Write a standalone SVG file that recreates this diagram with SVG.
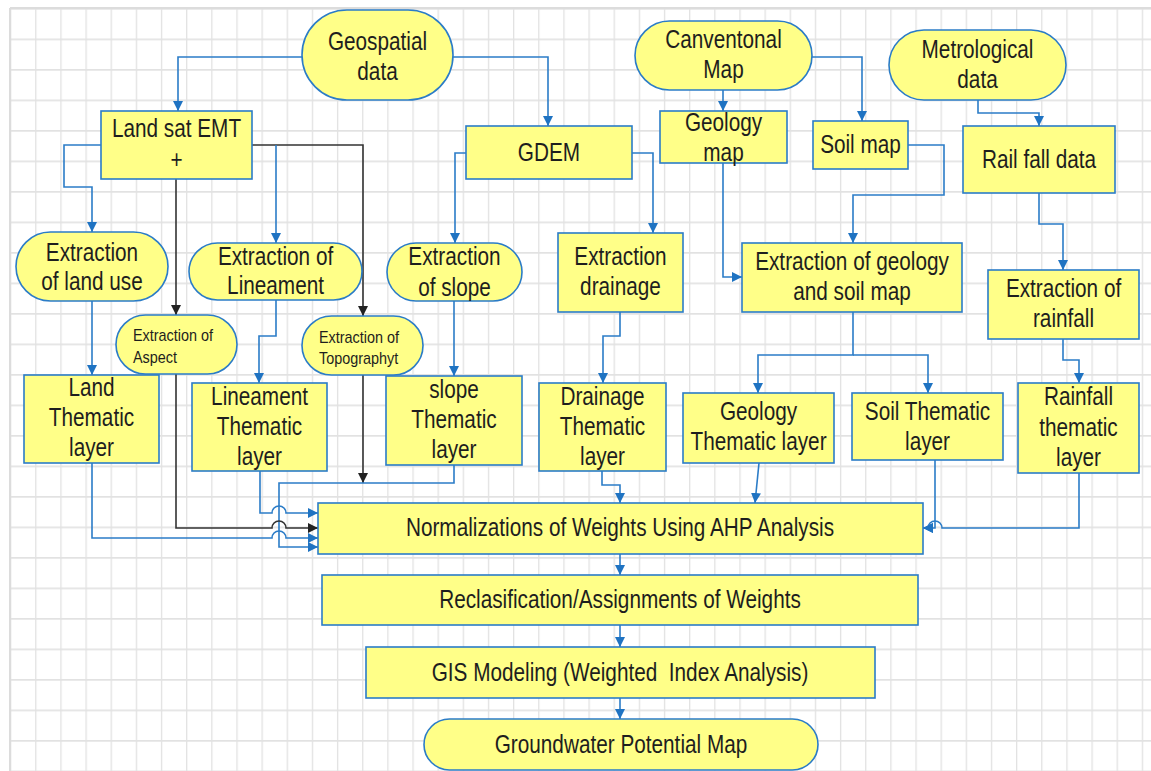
<svg xmlns="http://www.w3.org/2000/svg" width="1151" height="771" viewBox="0 0 1151 771">
<style>
.n{fill:#ffff88;stroke:#2b7cc7;stroke-width:1.6}
.t{font-family:"Liberation Sans",Arial,sans-serif;font-size:25px;fill:#1e1e1e;text-anchor:middle;transform-box:fill-box;transform-origin:center;transform:scaleX(0.83)}
.s{font-family:"Liberation Sans",Arial,sans-serif;font-size:16px;fill:#1e1e1e;text-anchor:start;transform-box:fill-box;transform-origin:left center;transform:scaleX(0.9)}
.c{fill:none;stroke:#2b7cc7;stroke-width:1.6}
.k{fill:none;stroke:#333;stroke-width:1.6}
</style>
<defs>
<pattern id="grid" patternUnits="userSpaceOnUse" x="10" y="8" width="25.15" height="30.5">
<path d="M0.5 0V30.5M0 0.8H25.15" fill="none" stroke="#e2e2e2" stroke-width="1.6"/>
</pattern>
<marker id="ab" markerUnits="userSpaceOnUse" markerWidth="11" markerHeight="10" refX="10" refY="5" orient="auto"><path d="M0 0L10 5L0 10z" fill="#1f73c2"/></marker>
<marker id="ak" markerUnits="userSpaceOnUse" markerWidth="11" markerHeight="10" refX="10" refY="5" orient="auto"><path d="M0 0L10 5L0 10z" fill="#222"/></marker>
</defs>
<rect width="1151" height="771" fill="#fff"/>
<rect x="10" y="8" width="1141" height="763" fill="url(#grid)"/>
<path d="M10 8H1151M10 8V771" stroke="#dcdcdc" stroke-width="2" fill="none"/>

<g id="connectors">
<path class="c" d="M302 57H178V111" marker-end="url(#ab)"/>
<path class="c" d="M453 57H548V126" marker-end="url(#ab)"/>
<path class="c" d="M723 90V111" marker-end="url(#ab)"/>
<path class="c" d="M812 57H862V121" marker-end="url(#ab)"/>
<path class="c" d="M978 100V113H1039V126" marker-end="url(#ab)"/>
<path class="c" d="M101 145H64V187H92V232" marker-end="url(#ab)"/>
<path class="k" d="M252 145H363V316" marker-end="url(#ak)"/>
<path class="c" d="M276 145V243" marker-end="url(#ab)"/>
<path class="k" d="M176 179V315" marker-end="url(#ak)"/>
<path class="c" d="M466 153H455V243" marker-end="url(#ab)"/>
<path class="c" d="M632 153H653V233" marker-end="url(#ab)"/>
<path class="c" d="M723 163V277H742" marker-end="url(#ab)"/>
<path class="c" d="M908 145H944V195H853V243" marker-end="url(#ab)"/>
<path class="c" d="M1039 193V224H1063V270" marker-end="url(#ab)"/>
<path class="c" d="M92 301V375" marker-end="url(#ab)"/>
<path class="c" d="M276 300V336H259V383" marker-end="url(#ab)"/>
<path class="c" d="M454 301V376" marker-end="url(#ab)"/>
<path class="c" d="M620 312V336H603V383" marker-end="url(#ab)"/>
<path class="c" d="M853 312V355H758V393" marker-end="url(#ab)"/>
<path class="c" d="M853 355H928V393" marker-end="url(#ab)"/>
<path class="c" d="M1063 339V360H1079V383" marker-end="url(#ab)"/>
<path class="k" d="M363 375V483" marker-end="url(#ak)"/>
<path class="c" d="M454 465V483H279V547H318" marker-end="url(#ab)"/>
<path class="c" d="M260 471V513H272A7 7 0 0 1 286 513H318" marker-end="url(#ab)"/>
<path class="k" d="M176 374V528H272A7 7 0 0 1 286 528H318" marker-end="url(#ak)"/>
<path class="c" d="M92 463V538H272A7 7 0 0 1 286 538H318" marker-end="url(#ab)"/>
<path class="c" d="M602 471V485H620V503" marker-end="url(#ab)"/>
<path class="c" d="M759 463L755 503" marker-end="url(#ab)"/>
<path class="c" d="M935 460V528H923" marker-end="url(#ab)"/>
<path class="c" d="M1079 473V528H942A7 7 0 0 0 928 528H923" marker-end="url(#ab)"/>
<path class="c" d="M620 554V575" marker-end="url(#ab)"/>
<path class="c" d="M620 625V647" marker-end="url(#ab)"/>
<path class="c" d="M620 698V719" marker-end="url(#ab)"/>
</g>

<g id="geospatial"><rect class="n" x="302" y="10" width="151" height="90" rx="45"/><text class="t" x="377.5" y="50">Geospatial</text><text class="t" x="377.5" y="80">data</text></g>
<g id="canventonal"><rect class="n" x="635" y="21" width="177" height="69" rx="34.5"/><text class="t" x="723.5" y="48">Canventonal</text><text class="t" x="723.5" y="78">Map</text></g>
<g id="metrological"><rect class="n" x="889" y="30" width="177" height="70" rx="35"/><text class="t" x="977.5" y="58">Metrological</text><text class="t" x="977.5" y="88">data</text></g>
<g id="landsat"><rect class="n" x="101" y="111" width="151" height="68"/><text class="t" x="176.5" y="137">Land sat EMT</text><text class="t" x="176.5" y="168">+</text></g>
<g id="gdem"><rect class="n" x="466" y="126" width="166" height="53"/><text class="t" x="549" y="161">GDEM</text></g>
<g id="geologymap"><rect class="n" x="660" y="111" width="127" height="52"/><text class="t" x="723.5" y="131">Geology</text><text class="t" x="723.5" y="161">map</text></g>
<g id="soilmap"><rect class="n" x="813" y="121" width="95" height="48"/><text class="t" x="860.5" y="153">Soil map</text></g>
<g id="railfall"><rect class="n" x="963" y="126" width="152" height="67"/><text class="t" x="1039" y="168">Rail fall data</text></g>
<g id="ext-landuse"><rect class="n" x="16" y="232" width="152" height="69" rx="34.5"/><text class="t" x="92" y="261">Extraction</text><text class="t" x="92" y="290">of land use</text></g>
<g id="ext-lineament"><rect class="n" x="189" y="243" width="173" height="57" rx="28.5"/><text class="t" x="275.5" y="265">Extraction of</text><text class="t" x="275.5" y="294">Lineament</text></g>
<g id="ext-slope"><rect class="n" x="387" y="243" width="135" height="58" rx="29"/><text class="t" x="454.5" y="265">Extraction</text><text class="t" x="454.5" y="296">of slope</text></g>
<g id="ext-drainage"><rect class="n" x="558" y="233" width="125" height="79"/><text class="t" x="620.5" y="265">Extraction</text><text class="t" x="620.5" y="295">drainage</text></g>
<g id="ext-geosoil"><rect class="n" x="742" y="243" width="220" height="69"/><text class="t" x="852" y="270">Extraction of geology</text><text class="t" x="852" y="300">and soil map</text></g>
<g id="ext-rainfall"><rect class="n" x="988" y="270" width="151" height="69"/><text class="t" x="1063.5" y="297">Extraction of</text><text class="t" x="1063.5" y="327">rainfall</text></g>
<g id="ext-aspect"><rect class="n" x="116" y="315" width="121" height="59" rx="29.5"/><text class="s" x="133" y="341">Extraction of</text><text class="s" x="133" y="363">Aspect</text></g>
<g id="ext-topo"><rect class="n" x="302" y="316" width="121" height="59" rx="29.5"/><text class="s" x="319" y="343">Extraction of</text><text class="s" x="319" y="364">Topographyt</text></g>
<g id="land-thematic"><rect class="n" x="24" y="375" width="135" height="88"/><text class="t" x="91.5" y="396">Land</text><text class="t" x="91.5" y="426">Thematic</text><text class="t" x="91.5" y="456">layer</text></g>
<g id="lineament-thematic"><rect class="n" x="192" y="383" width="135" height="88"/><text class="t" x="259.5" y="405">Lineament</text><text class="t" x="259.5" y="435">Thematic</text><text class="t" x="259.5" y="465">layer</text></g>
<g id="slope-thematic"><rect class="n" x="386" y="376" width="136" height="89"/><text class="t" x="454" y="398">slope</text><text class="t" x="454" y="428">Thematic</text><text class="t" x="454" y="458">layer</text></g>
<g id="drainage-thematic"><rect class="n" x="539" y="383" width="127" height="88"/><text class="t" x="602.5" y="405">Drainage</text><text class="t" x="602.5" y="435">Thematic</text><text class="t" x="602.5" y="465">layer</text></g>
<g id="geology-thematic"><rect class="n" x="683" y="393" width="151" height="70"/><text class="t" x="758.5" y="420">Geology</text><text class="t" x="758.5" y="450">Thematic layer</text></g>
<g id="soil-thematic"><rect class="n" x="852" y="393" width="151" height="67"/><text class="t" x="927.5" y="420">Soil Thematic</text><text class="t" x="927.5" y="450">layer</text></g>
<g id="rainfall-thematic"><rect class="n" x="1018" y="383" width="121" height="90"/><text class="t" x="1078.5" y="405">Rainfall</text><text class="t" x="1078.5" y="436">thematic</text><text class="t" x="1078.5" y="466">layer</text></g>
<g id="normalization"><rect class="n" x="318" y="503" width="605" height="51"/><text class="t" x="620" y="536">Normalizations of Weights Using AHP Analysis</text></g>
<g id="reclass"><rect class="n" x="322" y="575" width="596" height="50"/><text class="t" x="620" y="608">Reclasification/Assignments of Weights</text></g>
<g id="gis"><rect class="n" x="366" y="647" width="509" height="51"/><text class="t" x="620" y="681" style="white-space:pre">GIS Modeling (Weighted  Index Analysis)</text></g>
<g id="groundwater"><rect class="n" x="424" y="719" width="394" height="51" rx="25.5"/><text class="t" x="621" y="753">Groundwater Potential Map</text></g>
</svg>
